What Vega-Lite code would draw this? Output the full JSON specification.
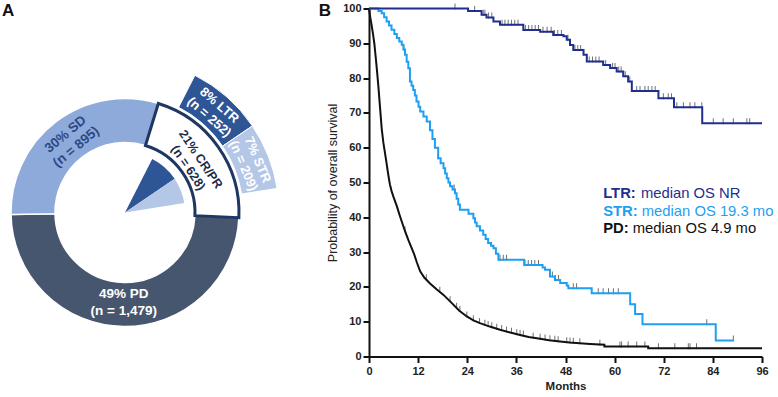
{
  "$schema": "https://vega.github.io/schema/vega-lite/v6.json",
  "padding": {"left": 2, "top": 1.5, "right": 0, "bottom": 0},
  "autosize": {"type": "pad"},
  "background": "white",
  "bounds": "flush",
  "spacing": 121,
  "config": {"view": {"stroke": null}, "font": "Liberation Sans"},
  "resolve": {"scale": {"color": "independent"}},
  "datasets": {
    "ring": [
      {"group": "CR/PR", "pct": 21, "label": "21% CR/PR\n(n = 628)"},
      {"group": "PD", "pct": 49, "label": "49% PD\n(n = 1,479)"},
      {"group": "SD", "pct": 30, "label": "30% SD\n(n = 895)"}
    ],
    "outer": [
      {"group": "LTR", "pct": 8, "label": "8% LTR\n(n = 252)"},
      {"group": "STR", "pct": 7, "label": "7% STR\n(n = 209)"}
    ],
    "km": [
      {"series": "LTR", "month": 0, "surv": 100},
      {"series": "LTR", "month": 24.2, "surv": 99.3},
      {"series": "LTR", "month": 27.5, "surv": 98.2},
      {"series": "LTR", "month": 28.7, "surv": 97.4},
      {"series": "LTR", "month": 30.4, "surv": 96.3},
      {"series": "LTR", "month": 32.0, "surv": 95.3},
      {"series": "LTR", "month": 37.7, "surv": 93.8},
      {"series": "LTR", "month": 41.8, "surv": 93.3},
      {"series": "LTR", "month": 45.0, "surv": 92.4},
      {"series": "LTR", "month": 47.5, "surv": 92.0},
      {"series": "LTR", "month": 48.3, "surv": 91.0},
      {"series": "LTR", "month": 49.1, "surv": 89.5},
      {"series": "LTR", "month": 49.9, "surv": 88.1},
      {"series": "LTR", "month": 52.4, "surv": 86.7},
      {"series": "LTR", "month": 53.2, "surv": 84.8},
      {"series": "LTR", "month": 57.2, "surv": 83.8},
      {"series": "LTR", "month": 58.9, "surv": 82.9},
      {"series": "LTR", "month": 60.5, "surv": 81.9},
      {"series": "LTR", "month": 62.1, "surv": 80.5},
      {"series": "LTR", "month": 63.3, "surv": 79.0},
      {"series": "LTR", "month": 64.2, "surv": 76.3},
      {"series": "LTR", "month": 70.7, "surv": 74.2},
      {"series": "LTR", "month": 74.5, "surv": 71.6},
      {"series": "LTR", "month": 81.4, "surv": 67.0},
      {"series": "LTR", "month": 96.0, "surv": 67.0},
      {"series": "STR", "month": 0, "surv": 100},
      {"series": "STR", "month": 2.3, "surv": 99.3},
      {"series": "STR", "month": 3.1, "surv": 98.6},
      {"series": "STR", "month": 3.7, "surv": 97.5},
      {"series": "STR", "month": 4.3, "surv": 96.3},
      {"series": "STR", "month": 4.9, "surv": 95.1},
      {"series": "STR", "month": 5.5, "surv": 93.9},
      {"series": "STR", "month": 6.2, "surv": 92.7},
      {"series": "STR", "month": 6.8, "surv": 91.5},
      {"series": "STR", "month": 7.4, "surv": 90.5},
      {"series": "STR", "month": 8.0, "surv": 89.6},
      {"series": "STR", "month": 8.4, "surv": 88.2},
      {"series": "STR", "month": 8.8, "surv": 86.7},
      {"series": "STR", "month": 9.2, "surv": 84.7},
      {"series": "STR", "month": 9.6, "surv": 82.8},
      {"series": "STR", "month": 10.0, "surv": 79.0},
      {"series": "STR", "month": 10.4, "surv": 77.8},
      {"series": "STR", "month": 10.8, "surv": 76.6},
      {"series": "STR", "month": 11.2, "surv": 75.0},
      {"series": "STR", "month": 11.6, "surv": 73.3},
      {"series": "STR", "month": 12.1, "surv": 71.8},
      {"series": "STR", "month": 12.5, "surv": 70.4},
      {"series": "STR", "month": 13.3, "surv": 69.0},
      {"series": "STR", "month": 14.1, "surv": 67.5},
      {"series": "STR", "month": 14.9, "surv": 65.0},
      {"series": "STR", "month": 15.5, "surv": 62.5},
      {"series": "STR", "month": 16.1, "surv": 60.0},
      {"series": "STR", "month": 16.9, "surv": 57.0},
      {"series": "STR", "month": 17.5, "surv": 55.5},
      {"series": "STR", "month": 18.2, "surv": 54.1},
      {"series": "STR", "month": 18.6, "surv": 52.6},
      {"series": "STR", "month": 19.0, "surv": 51.2},
      {"series": "STR", "month": 19.4, "surv": 50.0},
      {"series": "STR", "month": 19.8, "surv": 48.9},
      {"series": "STR", "month": 20.4, "surv": 48.0},
      {"series": "STR", "month": 21.0, "surv": 46.9},
      {"series": "STR", "month": 21.4, "surv": 45.3},
      {"series": "STR", "month": 21.8, "surv": 43.7},
      {"series": "STR", "month": 22.2, "surv": 42.2},
      {"series": "STR", "month": 24.3, "surv": 41.0},
      {"series": "STR", "month": 25.5, "surv": 39.7},
      {"series": "STR", "month": 25.9, "surv": 38.5},
      {"series": "STR", "month": 26.3, "surv": 37.4},
      {"series": "STR", "month": 27.1, "surv": 36.2},
      {"series": "STR", "month": 27.9, "surv": 35.0},
      {"series": "STR", "month": 28.5, "surv": 33.8},
      {"series": "STR", "month": 29.1, "surv": 32.6},
      {"series": "STR", "month": 29.8, "surv": 31.8},
      {"series": "STR", "month": 30.4, "surv": 31.1},
      {"series": "STR", "month": 31.0, "surv": 29.5},
      {"series": "STR", "month": 31.6, "surv": 27.8},
      {"series": "STR", "month": 37.9, "surv": 26.3},
      {"series": "STR", "month": 42.4, "surv": 25.6},
      {"series": "STR", "month": 43.0, "surv": 24.9},
      {"series": "STR", "month": 44.2, "surv": 23.0},
      {"series": "STR", "month": 45.4, "surv": 22.0},
      {"series": "STR", "month": 46.7, "surv": 21.1},
      {"series": "STR", "month": 48.3, "surv": 20.4},
      {"series": "STR", "month": 48.7, "surv": 19.6},
      {"series": "STR", "month": 54.4, "surv": 18.2},
      {"series": "STR", "month": 63.8, "surv": 15.0},
      {"series": "STR", "month": 65.0, "surv": 12.2},
      {"series": "STR", "month": 66.8, "surv": 9.3},
      {"series": "STR", "month": 84.7, "surv": 4.6},
      {"series": "STR", "month": 89.0, "surv": 4.6},
      {"series": "PD", "month": 0, "surv": 100},
      {"series": "PD", "month": 0.3, "surv": 97.5},
      {"series": "PD", "month": 0.6, "surv": 95.5},
      {"series": "PD", "month": 1.0, "surv": 92.5},
      {"series": "PD", "month": 1.3, "surv": 90.0},
      {"series": "PD", "month": 1.6, "surv": 86.5},
      {"series": "PD", "month": 2.0, "surv": 81.5},
      {"series": "PD", "month": 2.3, "surv": 77.5},
      {"series": "PD", "month": 2.7, "surv": 71.5},
      {"series": "PD", "month": 3.1, "surv": 65.5},
      {"series": "PD", "month": 3.5, "surv": 61.5},
      {"series": "PD", "month": 3.9, "surv": 58.5},
      {"series": "PD", "month": 4.3, "surv": 55.5},
      {"series": "PD", "month": 4.7, "surv": 52.3},
      {"series": "PD", "month": 5.1, "surv": 49.5},
      {"series": "PD", "month": 5.5, "surv": 47.6},
      {"series": "PD", "month": 6.0, "surv": 45.8},
      {"series": "PD", "month": 6.8, "surv": 43.2},
      {"series": "PD", "month": 7.4, "surv": 40.9},
      {"series": "PD", "month": 8.0, "surv": 38.8},
      {"series": "PD", "month": 8.8, "surv": 36.0},
      {"series": "PD", "month": 9.6, "surv": 33.5},
      {"series": "PD", "month": 10.3, "surv": 31.5},
      {"series": "PD", "month": 11.0, "surv": 29.5},
      {"series": "PD", "month": 11.7, "surv": 27.0},
      {"series": "PD", "month": 12.5, "surv": 24.5},
      {"series": "PD", "month": 13.5, "surv": 22.7},
      {"series": "PD", "month": 14.9, "surv": 21.0},
      {"series": "PD", "month": 16.5, "surv": 19.3},
      {"series": "PD", "month": 18.2, "surv": 17.7},
      {"series": "PD", "month": 19.5, "surv": 16.2},
      {"series": "PD", "month": 20.6, "surv": 14.9},
      {"series": "PD", "month": 22.0, "surv": 13.2},
      {"series": "PD", "month": 23.9, "surv": 11.5},
      {"series": "PD", "month": 25.5, "surv": 10.4},
      {"series": "PD", "month": 27.1, "surv": 9.6},
      {"series": "PD", "month": 29.5, "surv": 8.6},
      {"series": "PD", "month": 32.0, "surv": 7.7},
      {"series": "PD", "month": 34.5, "surv": 6.9},
      {"series": "PD", "month": 36.9, "surv": 6.2},
      {"series": "PD", "month": 39.0, "surv": 5.6},
      {"series": "PD", "month": 41.8, "surv": 5.1},
      {"series": "PD", "month": 44.0, "surv": 4.7},
      {"series": "PD", "month": 46.7, "surv": 4.3},
      {"series": "PD", "month": 49.0, "surv": 4.0},
      {"series": "PD", "month": 51.5, "surv": 3.8},
      {"series": "PD", "month": 54.0, "surv": 3.6},
      {"series": "PD", "month": 57.5, "surv": 3.4},
      {"series": "PD", "month": 57.5, "surv": 2.9},
      {"series": "PD", "month": 68.2, "surv": 2.9},
      {"series": "PD", "month": 68.2, "surv": 2.4},
      {"series": "PD", "month": 96.0, "surv": 2.4}
    ],
    "censor": [
      {"series": "LTR", "month": 21.0, "surv": 100},
      {"series": "LTR", "month": 25.8, "surv": 99.3},
      {"series": "LTR", "month": 27.9, "surv": 98.2},
      {"series": "LTR", "month": 28.3, "surv": 98.2},
      {"series": "LTR", "month": 29.2, "surv": 97.4},
      {"series": "LTR", "month": 30.0, "surv": 97.4},
      {"series": "LTR", "month": 32.5, "surv": 95.3},
      {"series": "LTR", "month": 33.2, "surv": 95.3},
      {"series": "LTR", "month": 34.0, "surv": 95.3},
      {"series": "LTR", "month": 34.8, "surv": 95.3},
      {"series": "LTR", "month": 35.6, "surv": 95.3},
      {"series": "LTR", "month": 36.4, "surv": 95.3},
      {"series": "LTR", "month": 38.2, "surv": 93.8},
      {"series": "LTR", "month": 39.0, "surv": 93.8},
      {"series": "LTR", "month": 39.8, "surv": 93.8},
      {"series": "LTR", "month": 40.6, "surv": 93.8},
      {"series": "LTR", "month": 41.4, "surv": 93.8},
      {"series": "LTR", "month": 42.5, "surv": 93.3},
      {"series": "LTR", "month": 43.5, "surv": 93.3},
      {"series": "LTR", "month": 44.5, "surv": 93.3},
      {"series": "LTR", "month": 45.3, "surv": 92.4},
      {"series": "LTR", "month": 46.1, "surv": 92.4},
      {"series": "LTR", "month": 47.0, "surv": 92.4},
      {"series": "LTR", "month": 48.6, "surv": 91.0},
      {"series": "LTR", "month": 50.3, "surv": 88.1},
      {"series": "LTR", "month": 51.0, "surv": 88.1},
      {"series": "LTR", "month": 51.7, "surv": 88.1},
      {"series": "LTR", "month": 53.8, "surv": 84.8},
      {"series": "LTR", "month": 54.6, "surv": 84.8},
      {"series": "LTR", "month": 55.4, "surv": 84.8},
      {"series": "LTR", "month": 56.2, "surv": 84.8},
      {"series": "LTR", "month": 57.8, "surv": 83.8},
      {"series": "LTR", "month": 59.5, "surv": 82.9},
      {"series": "LTR", "month": 60.1, "surv": 82.9},
      {"series": "LTR", "month": 61.0, "surv": 81.9},
      {"series": "LTR", "month": 61.6, "surv": 81.9},
      {"series": "LTR", "month": 62.6, "surv": 80.5},
      {"series": "LTR", "month": 63.7, "surv": 79.0},
      {"series": "LTR", "month": 65.4, "surv": 76.3},
      {"series": "LTR", "month": 66.2, "surv": 76.3},
      {"series": "LTR", "month": 67.4, "surv": 76.3},
      {"series": "LTR", "month": 68.2, "surv": 76.3},
      {"series": "LTR", "month": 69.1, "surv": 76.3},
      {"series": "LTR", "month": 69.9, "surv": 76.3},
      {"series": "LTR", "month": 71.9, "surv": 74.2},
      {"series": "LTR", "month": 73.1, "surv": 74.2},
      {"series": "LTR", "month": 73.9, "surv": 74.2},
      {"series": "LTR", "month": 75.2, "surv": 71.6},
      {"series": "LTR", "month": 76.8, "surv": 71.6},
      {"series": "LTR", "month": 78.4, "surv": 71.6},
      {"series": "LTR", "month": 79.6, "surv": 71.6},
      {"series": "LTR", "month": 81.3, "surv": 71.6},
      {"series": "LTR", "month": 84.1, "surv": 67.0},
      {"series": "LTR", "month": 86.5, "surv": 67.0},
      {"series": "LTR", "month": 89.0, "surv": 67.0},
      {"series": "LTR", "month": 92.3, "surv": 67.0},
      {"series": "LTR", "month": 93.0, "surv": 67.0},
      {"series": "STR", "month": 8.5, "surv": 88.2},
      {"series": "STR", "month": 16.9, "surv": 57.0},
      {"series": "STR", "month": 20.8, "surv": 48.0},
      {"series": "STR", "month": 32.0, "surv": 27.8},
      {"series": "STR", "month": 32.8, "surv": 27.8},
      {"series": "STR", "month": 33.6, "surv": 27.8},
      {"series": "STR", "month": 38.1, "surv": 26.3},
      {"series": "STR", "month": 38.9, "surv": 26.3},
      {"series": "STR", "month": 39.7, "surv": 26.3},
      {"series": "STR", "month": 40.5, "surv": 26.3},
      {"series": "STR", "month": 41.4, "surv": 26.3},
      {"series": "STR", "month": 44.8, "surv": 23.0},
      {"series": "STR", "month": 45.5, "surv": 22.0},
      {"series": "STR", "month": 46.3, "surv": 22.0},
      {"series": "STR", "month": 49.9, "surv": 19.6},
      {"series": "STR", "month": 50.7, "surv": 19.6},
      {"series": "STR", "month": 56.0, "surv": 18.2},
      {"series": "STR", "month": 57.2, "surv": 18.2},
      {"series": "STR", "month": 58.5, "surv": 18.2},
      {"series": "STR", "month": 59.7, "surv": 18.2},
      {"series": "STR", "month": 60.9, "surv": 18.2},
      {"series": "STR", "month": 82.5, "surv": 9.3},
      {"series": "STR", "month": 89.0, "surv": 4.6},
      {"series": "PD", "month": 8.8, "surv": 36.0},
      {"series": "PD", "month": 14.0, "surv": 22.2},
      {"series": "PD", "month": 17.3, "surv": 18.6},
      {"series": "PD", "month": 19.8, "surv": 15.9},
      {"series": "PD", "month": 21.4, "surv": 14.0},
      {"series": "PD", "month": 22.2, "surv": 13.1},
      {"series": "PD", "month": 23.9, "surv": 11.5},
      {"series": "PD", "month": 25.5, "surv": 10.4},
      {"series": "PD", "month": 27.0, "surv": 9.6},
      {"series": "PD", "month": 28.3, "surv": 9.1},
      {"series": "PD", "month": 29.1, "surv": 8.8},
      {"series": "PD", "month": 30.0, "surv": 8.4},
      {"series": "PD", "month": 31.2, "surv": 8.0},
      {"series": "PD", "month": 32.4, "surv": 7.6},
      {"series": "PD", "month": 33.6, "surv": 7.2},
      {"series": "PD", "month": 34.8, "surv": 6.8},
      {"series": "PD", "month": 36.1, "surv": 6.4},
      {"series": "PD", "month": 36.9, "surv": 6.2},
      {"series": "PD", "month": 37.7, "surv": 6.0},
      {"series": "PD", "month": 40.1, "surv": 5.4},
      {"series": "PD", "month": 41.8, "surv": 5.1},
      {"series": "PD", "month": 43.0, "surv": 4.9},
      {"series": "PD", "month": 44.2, "surv": 4.7},
      {"series": "PD", "month": 45.4, "surv": 4.5},
      {"series": "PD", "month": 46.2, "surv": 4.4},
      {"series": "PD", "month": 48.3, "surv": 4.1},
      {"series": "PD", "month": 49.1, "surv": 4.0},
      {"series": "PD", "month": 49.9, "surv": 3.95},
      {"series": "PD", "month": 51.5, "surv": 3.8},
      {"series": "PD", "month": 56.4, "surv": 3.4},
      {"series": "PD", "month": 61.3, "surv": 2.9},
      {"series": "PD", "month": 61.7, "surv": 2.9},
      {"series": "PD", "month": 63.3, "surv": 2.9},
      {"series": "PD", "month": 65.4, "surv": 2.9},
      {"series": "PD", "month": 67.4, "surv": 2.9},
      {"series": "PD", "month": 70.7, "surv": 2.4},
      {"series": "PD", "month": 74.7, "surv": 2.4},
      {"series": "PD", "month": 78.0, "surv": 2.4},
      {"series": "PD", "month": 78.4, "surv": 2.4},
      {"series": "PD", "month": 80.0, "surv": 2.4}
    ],
    "legend": [
      {"series": "LTR", "month": 57.2, "surv": 46.6, "prefix": "LTR:", "rest": "median OS NR"},
      {"series": "STR", "month": 57.2, "surv": 41.6, "prefix": "STR:", "rest": "median OS 19.3 mo"},
      {"series": "PD", "month": 57.2, "surv": 36.6, "prefix": "PD:", "rest": "median OS 4.9 mo"}
    ]
  },
  "hconcat": [
    {
      "width": 246,
      "height": 388,
      "title": {"text": "A", "anchor": "start", "frame": "group", "offset": 0, "dy": 11.5, "fontSize": 17, "fontWeight": "bold", "font": "Liberation Sans", "color": "#111111"},
      "resolve": {"scale": {"theta": "independent"}},
      "layer": [
        {
          "data": {"name": "ring"},
          "mark": {"type": "arc", "radius": 114, "radius2": 70, "stroke": "white", "strokeWidth": 1.5, "yOffset": 10},
          "encoding": {
            "theta": {"field": "pct", "type": "quantitative", "stack": true, "scale": {"domain": [0, 100], "range": [0.2967, 6.5799]}},
            "order": {"field": "group", "type": "ordinal", "sort": "ascending"},
            "color": {"field": "group", "type": "nominal", "legend": null, "scale": {"domain": ["CR/PR", "PD", "SD", "LTR", "STR"], "range": ["#ffffff", "#47566f", "#8eaadb", "#2e5596", "#b4c7e7"]}}
          }
        },
        {
          "data": {"name": "outer"},
          "mark": {"type": "arc", "radius": 60, "radius2": 0, "yOffset": 10},
          "encoding": {
            "theta": {"field": "pct", "type": "quantitative", "stack": true, "scale": {"domain": [0, 100], "range": [0.4712, 6.7544]}},
            "order": {"field": "group", "type": "ordinal", "sort": "ascending"},
            "color": {"field": "group", "type": "nominal", "legend": null, "scale": {"domain": ["CR/PR", "PD", "SD", "LTR", "STR"], "range": ["#ffffff", "#47566f", "#8eaadb", "#2e5596", "#b4c7e7"]}}
          }
        },
        {
          "data": {"name": "outer"},
          "mark": {"type": "arc", "radius": 154, "radius2": 118, "stroke": "white", "strokeWidth": 1, "yOffset": 10},
          "encoding": {
            "theta": {"field": "pct", "type": "quantitative", "stack": true, "scale": {"domain": [0, 100], "range": [0.4712, 6.7544]}},
            "order": {"field": "group", "type": "ordinal", "sort": "ascending"},
            "color": {"field": "group", "type": "nominal", "legend": null, "scale": {"domain": ["CR/PR", "PD", "SD", "LTR", "STR"], "range": ["#ffffff", "#47566f", "#8eaadb", "#2e5596", "#b4c7e7"]}}
          }
        },
        {
          "data": {"name": "ring"},
          "mark": {"type": "arc", "radius": 114, "radius2": 70, "fillOpacity": 0, "stroke": "#1f3763", "strokeWidth": 3, "strokeJoin": "miter", "yOffset": 10},
          "encoding": {
            "theta": {"field": "pct", "type": "quantitative", "stack": true, "scale": {"domain": [0, 100], "range": [0.2967, 6.5799]}},
            "order": {"field": "group", "type": "ordinal", "sort": "ascending"},
            "detail": {"field": "group", "type": "nominal"},
            "strokeOpacity": {"condition": {"test": "datum.group === 'CR/PR'", "value": 1}, "value": 0}
          }
        },
        {
          "data": {"name": "ring"},
          "mark": {"type": "text", "radius": 90, "yOffset": 10, "dy": -8.25, "font": "Liberation Sans", "fontSize": 13.5, "fontWeight": "bold", "lineBreak": "\n", "lineHeight": 16.5, "align": "center", "baseline": "middle"},
          "encoding": {
            "theta": {"field": "pct", "type": "quantitative", "stack": true, "scale": {"domain": [0, 100], "range": [0.2967, 6.5799]}},
            "order": {"field": "group", "type": "ordinal", "sort": "ascending"},
            "text": {"condition": {"test": "datum.group === 'CR/PR'", "value": ""}, "field": "label"},
            "angle": {"condition": [{"test": "datum.group === 'SD'", "value": -40}], "value": 0},
            "color": {"condition": [{"test": "datum.group === 'SD'", "value": "#2b4a87"}], "value": "#ffffff"}
          }
        },
        {
          "data": {"name": "ring"},
          "mark": {"type": "text", "radius": 85, "yOffset": 10, "dy": -7.5, "angle": 56, "color": "#1c2b4a", "font": "Liberation Sans", "fontSize": 12.5, "fontWeight": "bold", "lineBreak": "\n", "lineHeight": 15, "align": "center", "baseline": "middle"},
          "encoding": {
            "theta": {"field": "pct", "type": "quantitative", "stack": true, "scale": {"domain": [0, 100], "range": [0.2967, 6.5799]}},
            "order": {"field": "group", "type": "ordinal", "sort": "ascending"},
            "text": {"condition": {"test": "datum.group === 'CR/PR'", "field": "label"}, "value": ""}
          }
        },
        {
          "data": {"name": "outer"},
          "mark": {"type": "text", "radius": 135, "yOffset": 10, "dy": -7.75, "font": "Liberation Sans", "fontSize": 13, "fontWeight": "bold", "lineBreak": "\n", "lineHeight": 15.5, "align": "center", "baseline": "middle", "color": "#ffffff"},
          "encoding": {
            "theta": {"field": "pct", "type": "quantitative", "stack": true, "scale": {"domain": [0, 100], "range": [0.4712, 6.7544]}},
            "order": {"field": "group", "type": "ordinal", "sort": "ascending"},
            "text": {"field": "label"},
            "angle": {"condition": [{"test": "datum.group === 'LTR'", "value": 41}], "value": 67}
          }
        }
      ]
    },
    {
      "width": 393,
      "height": 348,
      "title": {"text": "B", "anchor": "start", "frame": "bounds", "offset": 0, "dy": 17, "dx": -8, "fontSize": 17, "fontWeight": "bold", "font": "Liberation Sans", "color": "#111111"},
      "encoding": {
        "x": {"field": "month", "type": "quantitative", "scale": {"domain": [0, 96], "nice": false},
          "axis": {"values": [0, 12, 24, 36, 48, 60, 72, 84, 96], "title": "Months", "grid": false, "labelFlush": false, "domainWidth": 2, "domainColor": "#111111", "tickWidth": 2, "tickColor": "#111111", "tickSize": 6, "labelFont": "Liberation Sans", "labelFontWeight": "bold", "labelFontSize": 11, "labelColor": "#222222", "labelPadding": 3, "titleFont": "Liberation Sans", "titleFontWeight": "bold", "titleFontSize": 11.5, "titleColor": "#222222", "titlePadding": 4}},
        "y": {"field": "surv", "type": "quantitative", "scale": {"domain": [0, 100], "nice": false},
          "axis": {"values": [0, 10, 20, 30, 40, 50, 60, 70, 80, 90, 100], "title": "Probability of overall survival", "grid": false, "labelFlush": false, "domainWidth": 2, "domainColor": "#111111", "tickWidth": 2, "tickColor": "#111111", "tickSize": 6, "labelFont": "Liberation Sans", "labelFontWeight": "bold", "labelFontSize": 11, "labelColor": "#222222", "labelPadding": 2, "titleFont": "Liberation Sans", "titleFontWeight": "normal", "titleFontSize": 12.5, "titleColor": "#222222", "titlePadding": 3}}
      },
      "layer": [
        {
          "data": {"name": "censor"},
          "mark": {"type": "tick", "orient": "vertical", "size": 6, "thickness": 1, "color": "#333333", "yOffset": -2}
        },
        {
          "data": {"name": "km"},
          "transform": [{"filter": "datum.series === 'PD'"}],
          "mark": {"type": "line", "interpolate": "linear", "strokeWidth": 2},
          "encoding": {"color": {"field": "series", "type": "nominal", "legend": null, "scale": {"domain": ["LTR", "STR", "PD"], "range": ["#1f2e8f", "#1e9ff2", "#111111"]}}}
        },
        {
          "data": {"name": "km"},
          "transform": [{"filter": "datum.series === 'STR'"}],
          "mark": {"type": "line", "interpolate": "step-after", "strokeWidth": 2},
          "encoding": {"color": {"field": "series", "type": "nominal", "legend": null, "scale": {"domain": ["LTR", "STR", "PD"], "range": ["#1f2e8f", "#1e9ff2", "#111111"]}}}
        },
        {
          "data": {"name": "km"},
          "transform": [{"filter": "datum.series === 'LTR'"}],
          "mark": {"type": "line", "interpolate": "step-after", "strokeWidth": 2},
          "encoding": {"color": {"field": "series", "type": "nominal", "legend": null, "scale": {"domain": ["LTR", "STR", "PD"], "range": ["#1f2e8f", "#1e9ff2", "#111111"]}}}
        },
        {
          "data": {"name": "legend"},
          "mark": {"type": "text", "align": "left", "baseline": "middle", "font": "Liberation Sans", "fontSize": 14.8, "fontWeight": "bold"},
          "encoding": {
            "text": {"field": "prefix"},
            "color": {"field": "series", "type": "nominal", "legend": null, "scale": {"domain": ["LTR", "STR", "PD"], "range": ["#1f2e8f", "#1e9ff2", "#111111"]}}
          }
        },
        {
          "data": {"name": "legend"},
          "transform": [{"filter": "datum.series === 'LTR'"}],
          "mark": {"type": "text", "align": "left", "baseline": "middle", "font": "Liberation Sans", "fontSize": 14.8, "dx": 37.8},
          "encoding": {
            "text": {"field": "rest"},
            "color": {"field": "series", "type": "nominal", "legend": null, "scale": {"domain": ["LTR", "STR", "PD"], "range": ["#1f2e8f", "#1e9ff2", "#111111"]}}
          }
        },
        {
          "data": {"name": "legend"},
          "transform": [{"filter": "datum.series === 'STR'"}],
          "mark": {"type": "text", "align": "left", "baseline": "middle", "font": "Liberation Sans", "fontSize": 14.8, "dx": 38.6},
          "encoding": {
            "text": {"field": "rest"},
            "color": {"field": "series", "type": "nominal", "legend": null, "scale": {"domain": ["LTR", "STR", "PD"], "range": ["#1f2e8f", "#1e9ff2", "#111111"]}}
          }
        },
        {
          "data": {"name": "legend"},
          "transform": [{"filter": "datum.series === 'PD'"}],
          "mark": {"type": "text", "align": "left", "baseline": "middle", "font": "Liberation Sans", "fontSize": 14.8, "dx": 29.6},
          "encoding": {
            "text": {"field": "rest"},
            "color": {"field": "series", "type": "nominal", "legend": null, "scale": {"domain": ["LTR", "STR", "PD"], "range": ["#1f2e8f", "#1e9ff2", "#111111"]}}
          }
        }
      ]
    }
  ]
}
